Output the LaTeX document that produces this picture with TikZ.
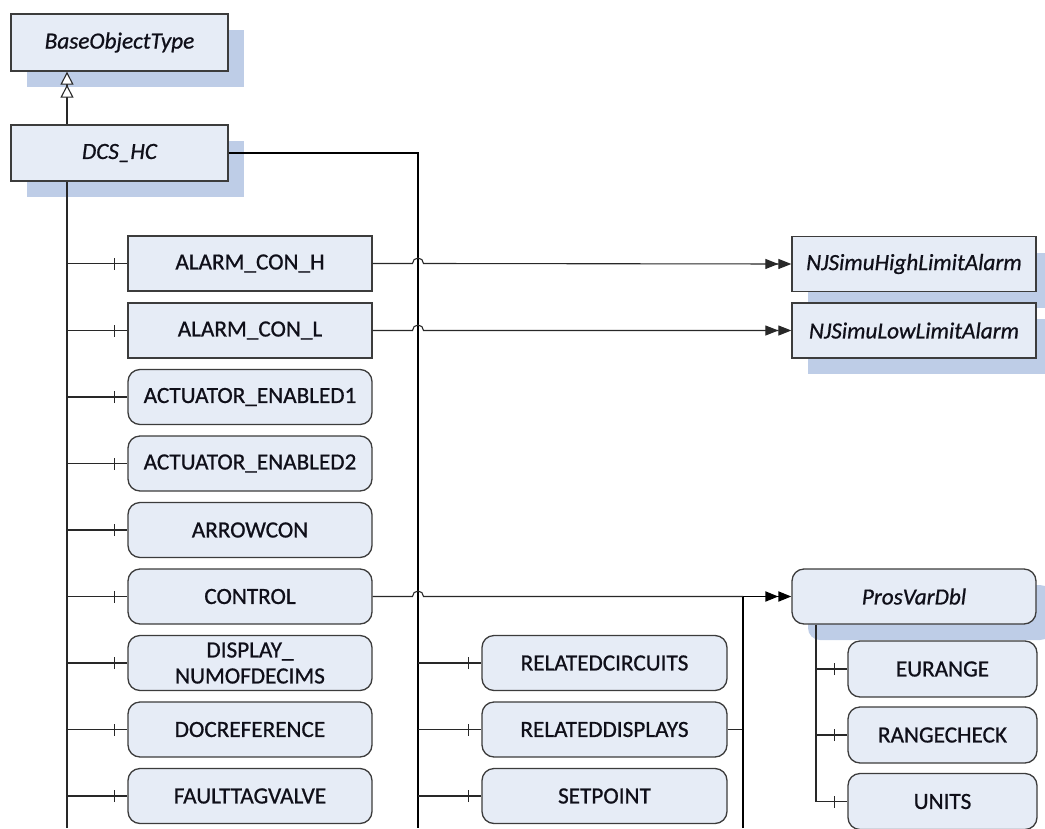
\documentclass[tikz,border=0pt]{standalone}
\usepackage{fontspec}
\setmainfont{Carlito}[FakeBold=0.8]
\usetikzlibrary{arrows.meta,shadows,decorations.markings}
\definecolor{boxfill}{RGB}{230,236,246}
\definecolor{boxshadow}{RGB}{190,205,231}
\definecolor{boxline}{RGB}{60,60,60}
\definecolor{wirecol}{RGB}{40,40,40}
\definecolor{txt}{RGB}{15,15,25}
\tikzset{
  box/.style={draw=boxline, line width=1.3pt, fill=boxfill, minimum width=244pt,
    minimum height=55pt, inner sep=0pt, text=txt, align=center,
    font=\fontsize{23.2}{27}\selectfont},
  rbox/.style={box, rounded corners=12pt},
  typebox/.style={box, font=\fontsize{23.2}{27}\selectfont\itshape,
    general shadow={fill=boxshadow, shadow xshift=16pt, shadow yshift=-16pt}},
  wire/.style={draw=wirecol, line width=1.1pt},
  heavy/.style={draw=black, line width=2.3pt},
  member/.style={wire, postaction={decorate},
    decoration={markings, mark=at position -13pt with {\draw[wirecol, line width=1.1pt] (0,-6pt) -- (0,6pt);}}},
  assoc/.style={wire, -{Triangle[length=13pt,width=10pt]Triangle[length=13pt,width=10pt]}},
  inherit/.style={wire, {Triangle[open,fill=white,length=13pt,width=13pt]Triangle[open,fill=white,length=13pt,width=13pt]}-},
}
\newcommand{\hopover}{arc[start angle=180, end angle=0, radius=5.5pt]}
\begin{document}
\begin{tikzpicture}[x=1pt, y=-1pt]
\useasboundingbox (0,0) rectangle (1045,828);
\clip (0,0) rectangle (1045,828);

% type definitions
\node[typebox, minimum width=217pt, minimum height=57pt] (base) at (119.5,42.5) {BaseObjectType};
\node[typebox, minimum width=217pt, minimum height=56pt] (dcs) at (119.5,153) {DCS\_HC};
\node[typebox] (njh) at (914,264) {NJSimuHighLimitAlarm};
\node[typebox] (njl) at (914,330.5) {NJSimuLowLimitAlarm};
\node[typebox, rounded corners=12pt] (pvd) at (914,596.5) {ProsVarDbl};

% guide coordinates for the trunk lines
\coordinate (tx) at (67,0);
\coordinate (tEnd) at (67,828);
\coordinate (mx) at (418,0);
\coordinate (mEnd) at (418,828);
\coordinate (rx) at (743,0);
\coordinate (rEnd) at (743,828);
\coordinate (hop) at (412.5,0);
\coordinate (px) at (816,0);

% members of DCS_HC, left column
\node[box] (ach) at (250,263.5) {ALARM\_CON\_H};
\node[box] (acl) at (250,330.5) {ALARM\_CON\_L};
\node[rbox] (ae1) at (250,397) {ACTUATOR\_ENABLED1};
\node[rbox] (ae2) at (250,463.5) {ACTUATOR\_ENABLED2};
\node[rbox] (arr) at (250,530) {ARROWCON};
\node[rbox] (ctl) at (250,596.5) {CONTROL};
\node[rbox] (dnd) at (250,663) {DISPLAY\_\\[-1pt]NUMOFDECIMS};
\node[rbox] (doc) at (250,729.5) {DOCREFERENCE};
\node[rbox] (ftv) at (250,796) {FAULTTAGVALVE};

% members of DCS_HC, middle column
\node[rbox, minimum width=245pt] (rci) at (604.5,663) {RELATEDCIRCUITS};
\node[rbox, minimum width=245pt] (rdi) at (604.5,729.5) {RELATEDDISPLAYS};
\node[rbox, minimum width=245pt] (spt) at (604.5,796) {SETPOINT};

% members of ProsVarDbl
\node[rbox, minimum width=189pt, minimum height=56pt] (eur) at (942.5,669) {EURANGE};
\node[rbox, minimum width=189pt, minimum height=56pt] (rck) at (942.5,735) {RANGECHECK};
\node[rbox, minimum width=189pt, minimum height=56pt] (uni) at (942.5,801.5) {UNITS};

% inheritance
\draw[inherit] (base.south -| tx) -- (dcs.north -| tx);

% trunks
\draw[wire, line width=1.3pt] (dcs.south -| tx) -- (tEnd);
\draw[heavy] (dcs.east) -- (dcs.east -| mx) -- (mEnd);

% left column branches
\foreach \n in {ach,acl,ae1,ae2,arr,ctl,dnd,doc,ftv}
  \draw[member] (\n.west -| tx) -- (\n.west);

% middle column branches
\foreach \n in {rci,rdi,spt}
  \draw[member] (\n.west -| mx) -- (\n.west);

% ProsVarDbl branches
\draw[wire] (pvd.south -| px) -- (uni.west -| px);
\foreach \n in {eur,rck,uni}
  \draw[member] (\n.west -| px) -- (\n.west);

% references with line hops over the heavy trunk
\draw[assoc] (ach.east) -- (ach.east -| hop) \hopover -- (njh.west);
\draw[assoc] (acl.east) -- (acl.east -| hop) \hopover -- (njl.west);
\draw[wire] (ctl.east) -- (ctl.east -| hop) \hopover -- (ctl.east -| rx);
\draw[wire] (rdi.east) -- (rdi.east -| rx);
\draw[draw=black, line width=1.8pt] (rEnd) -- (ctl.east -| rx);
\draw[assoc, draw=black, line width=1.9pt] (ctl.east -| rx) -- (pvd.west);
\end{tikzpicture}
\end{document}
